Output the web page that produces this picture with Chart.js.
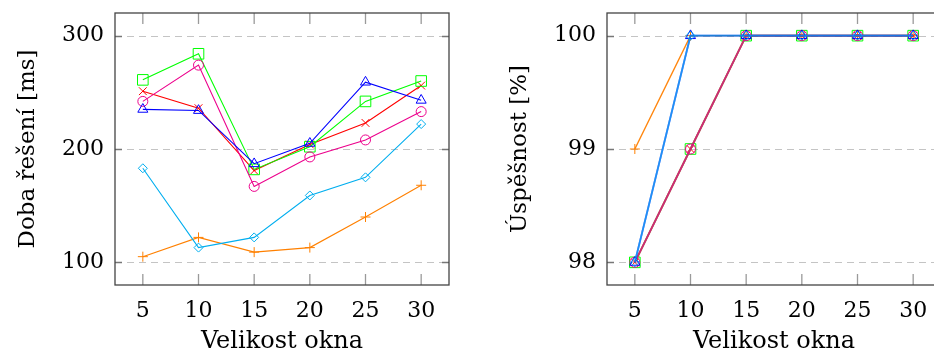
<!DOCTYPE html>
<html><head><meta charset="utf-8">
<script src="https://cdn.jsdelivr.net/npm/chart.js@4"></script>
<style>
html,body{margin:0;padding:0;background:#fff;overflow:hidden;width:934px;height:356px;position:relative;}
canvas{position:absolute;top:0;}
#c1{left:0}
#c2{left:492px}
</style></head><body>
<canvas id="c1" width="470" height="356"></canvas>
<canvas id="c2" width="470" height="356"></canvas>
<script>
// ---- data ----
const windowSizes = [5, 10, 15, 20, 25, 30];
const xTicks = [5, 10, 15, 20, 25, 30];

// Doba řešení [ms]
const timeOrange  = [105, 122, 109, 113, 140, 168];
const timeRed     = [251, 236, 181, 204, 223, 256];
const timeGreen   = [261, 284, 182, 202, 242, 260];
const timeMagenta = [242, 274, 167, 193, 208, 233];
const timeBlue    = [235, 234, 187, 205, 259, 243];
const timeCyan    = [183, 113, 122, 159, 175, 222];
const timeTicks   = [100, 200, 300];

// Úspěšnost [%]
const succOrange  = [99, 100, 100, 100, 100, 100];
const succRed     = [98, 99, 100, 100, 100, 100];
const succGreen   = [98, 99, 100, 100, 100, 100];
const succMagenta = [98, 99, 100, 100, 100, 100];
const succBlue    = [98, 100, 100, 100, 100, 100];
const succCyan    = [98, 100, 100, 100, 100, 100];
const succTicks   = [98, 99, 100];

// ---- styles ----
const styles = {
  orange:  {rgb: [255, 128, 0],   point: 'cross',    r: 5},
  red:     {rgb: [255, 0, 0],     point: 'crossRot', r: 5.5},
  green:   {rgb: [0, 255, 0],     point: 'rect',     r: 7.5},
  magenta: {rgb: [236, 0, 140],   point: 'circle',   r: 5},
  blue:    {rgb: [0, 0, 255],     point: 'triangle', r: 5.8},
  cyan:    {rgb: [0, 174, 239],   point: 'rectRot',  r: 4.5}
};
const TICK_FONT = {family: 'DejaVu Serif', size: 22};
const XTITLE_FONT = {family: 'DejaVu Serif', size: 24};
const YTITLE_FONT = {family: 'DejaVu Serif', size: 23};
Chart.defaults.font.family = 'DejaVu Serif';

const framePlugin = {
  id: 'frame',
  beforeDatasetsDraw(chart) {
    const {ctx, chartArea: a, scales: {x, y}} = chart;
    ctx.save();
    ctx.strokeStyle = '#c4c4c4'; ctx.lineWidth = 1; ctx.setLineDash([7, 5]);
    y.ticks.forEach(t => {
      const py = Math.round(y.getPixelForValue(t.value)) + 0.5;
      ctx.beginPath(); ctx.moveTo(a.left, py); ctx.lineTo(a.right, py); ctx.stroke();
    });
    ctx.setLineDash([]);
    ctx.strokeStyle = '#9a9a9a'; ctx.lineWidth = 1.3;
    x.ticks.forEach(t => {
      const px = x.getPixelForValue(t.value);
      ctx.beginPath();
      ctx.moveTo(px, a.top); ctx.lineTo(px, a.top + 11);
      ctx.moveTo(px, a.bottom); ctx.lineTo(px, a.bottom - 11);
      ctx.stroke();
    });
    ctx.strokeStyle = '#777';
    y.ticks.forEach(t => {
      const py = Math.round(y.getPixelForValue(t.value)) + 0.5;
      ctx.beginPath();
      ctx.moveTo(a.left, py); ctx.lineTo(a.left + 7, py);
      ctx.moveTo(a.right, py); ctx.lineTo(a.right - 7, py);
      ctx.stroke();
    });
    ctx.restore();
  },
  afterDatasetsDraw(chart) {
    const {ctx, chartArea: a} = chart;
    ctx.save();
    ctx.strokeStyle = '#444'; ctx.lineWidth = 1.3;
    ctx.strokeRect(a.left, a.top, a.right - a.left, a.bottom - a.top);
    ctx.restore();
  }
};

function ds(label, values, key, lineAlpha, lineWidth) {
  const s = styles[key];
  const c = 'rgb(' + s.rgb.join(',') + ')';
  const lc = 'rgba(' + s.rgb.join(',') + ',' + lineAlpha + ')';
  return {
    label,
    data: windowSizes.map((xv, i) => ({x: xv, y: values[i]})),
    borderColor: lc, borderWidth: lineWidth, tension: 0, fill: false,
    pointStyle: s.point, pointRadius: s.r, pointBorderColor: c,
    pointBackgroundColor: 'rgba(0,0,0,0)', pointBorderWidth: 1
  };
}

function makeChart(id, yTitle, yMin, yMax, yTickVals, datasets) {
  return new Chart(document.getElementById(id), {
    type: 'line',
    data: {datasets},
    plugins: [framePlugin],
    options: {
      responsive: false, animation: false, devicePixelRatio: 1,
      layout: {padding: {top: 13, right: 21, left: 0, bottom: 0}},
      plugins: {legend: {display: false}, tooltip: {enabled: false}},
      events: [],
      scales: {
        x: {
          type: 'linear', min: 2.5, max: 32.5,
          afterBuildTicks: s => { s.ticks = xTicks.map(v => ({value: v})); },
          afterFit: s => { s.height = 71; s.paddingLeft = 0; s.paddingRight = 0; },
          grid: {display: false, drawTicks: false},
          border: {display: false},
          ticks: {padding: 13, font: TICK_FONT, color: '#000', autoSkip: false, maxRotation: 0, callback: v => String(v)},
          title: {display: true, text: 'Velikost okna', font: XTITLE_FONT, color: '#000', padding: {top: 0, bottom: 0}}
        },
        y: {
          type: 'linear', min: yMin, max: yMax,
          afterBuildTicks: s => { s.ticks = yTickVals.map(v => ({value: v})); },
          afterFit: s => { s.width = 115; s.paddingTop = 0; s.paddingBottom = 0; },
          grid: {display: false, drawTicks: false},
          border: {display: false},
          ticks: {padding: 11, font: TICK_FONT, color: '#000', autoSkip: false, callback: v => String(v)},
          title: {display: true, text: yTitle, font: YTITLE_FONT, color: '#000', padding: {top: 14, bottom: 0}}
        }
      }
    }
  });
}

// Chart.js paints the first dataset on top, so the list runs top → bottom.
makeChart('c1', 'Doba řešení [ms]', 80, 320, timeTicks, [
  ds('F', timeCyan, 'cyan', 1, 1.1),
  ds('E', timeBlue, 'blue', 1, 1.1),
  ds('D', timeMagenta, 'magenta', 1, 1.1),
  ds('C', timeGreen, 'green', 1, 1.1),
  ds('B', timeRed, 'red', 1, 1.1),
  ds('A', timeOrange, 'orange', 1, 1.1)
]);

makeChart('c2', 'Úspěšnost [%]', 97.8, 100.2, succTicks, [
  ds('F', succCyan, 'cyan', 0.65, 1.8),
  ds('E', succBlue, 'blue', 0.65, 1.8),
  ds('D', succMagenta, 'magenta', 0.8, 1.8),
  ds('C', succGreen, 'green', 0.65, 1.8),
  ds('B', succRed, 'red', 0.65, 1.8),
  ds('A', succOrange, 'orange', 0.95, 1.4)
]);
</script>
</body></html>
